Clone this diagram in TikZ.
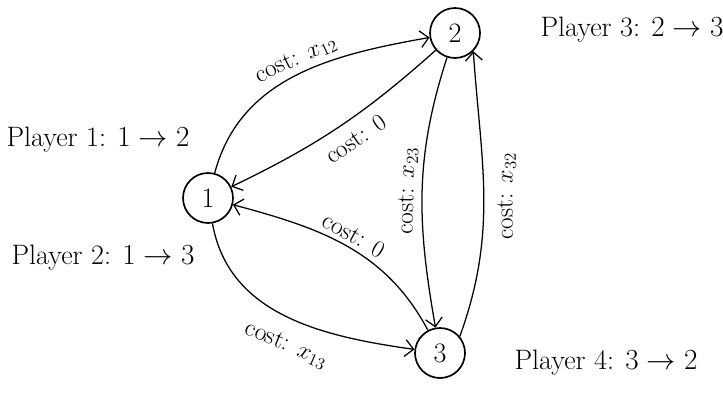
\documentclass[tikz,border=0pt]{standalone}
\usetikzlibrary{arrows.meta,positioning}

\begin{document}
\begin{tikzpicture}[
  vertex/.style={circle, draw=black, line width=1.2pt, minimum size=1.25cm, inner sep=0pt, font=\fontsize{20}{24}\selectfont},
  player/.style={font=\fontsize{20}{24}\selectfont},
  costlbl/.style={font=\fontsize{18}{21}\selectfont, sloped, inner sep=3pt},
  edge/.style={line width=0.9pt, -{Straight Barb[length=6pt,width=12pt,line width=0.9pt]}},
]

\useasboundingbox (0,0) rectangle (18.075,9.8);

% --- Nodos ---
\node[vertex] (v1) at (5.2,4.85) {1};
\node[vertex] (v2) at (11.375,8.975) {2};
\node[vertex] (v3) at (11.0,0.975) {3};

% --- Jugadores ---
\node[player] (p1) at (2.45,6.3) {Player 1: $1\to2$};
\node[player] (p2) at (2.575,3.35) {Player 2: $1\to3$};
\node[player] (p3) at (15.8,9.05) {Player 3: $2\to3$};
\node[player] (p4) at (15.15,0.725) {Player 4: $3\to2$};

% --- Aristas ---
\draw[edge] (v1) to[out=75, in=190] node[costlbl, pos=0.53, above] {cost: $x_{12}$} (v2);
\draw[edge] (v2) to[bend left=8] node[costlbl, pos=0.47, below=5pt] {cost: $0$} (v1);
\draw[edge] (v1) to[out=-80, in=172] node[costlbl, pos=0.55, below=8pt] {cost: $x_{13}$} (v3);
\draw[edge] (v3) to[out=118, in=-15] node[costlbl, pos=0.5, above] {cost: $0$} (v1);
\draw[edge] (v2) to[out=-108, in=100] node[costlbl, pos=0.5, above] {cost: $x_{23}$} (v3);
\draw[edge] (v3.40) to[out=70, in=-86] node[costlbl, allow upside down, pos=0.5, below=6pt] {cost: $x_{32}$} (v2.-45);

\end{tikzpicture}
\end{document}
